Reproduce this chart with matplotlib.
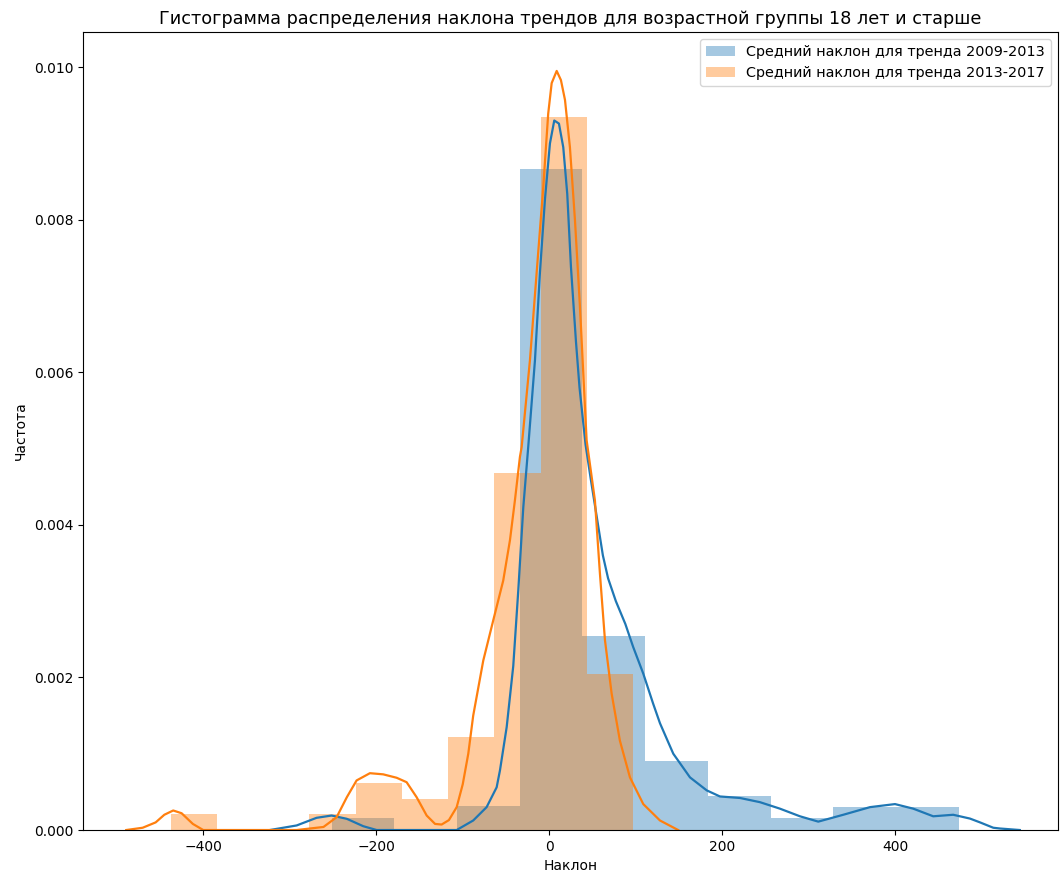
import numpy as np
import matplotlib
matplotlib.use("Agg")
import matplotlib.pyplot as plt

# Histogram bins (density) for the two periods
edges_0913 = [-251.6, -179.1, -106.6, -34.1, 38.4, 110.9, 183.4, 255.9, 328.4, 400.9, 473.4]
dens_0913 = [0.000153, 0.0, 0.000315, 0.00867, 0.00254, 0.000904, 0.000446, 0.000153, 0.000306, 0.000306]

edges_1317 = [-437.7, -384.2, -330.7, -277.3, -223.8, -170.3, -116.8, -63.4, -9.9, 43.6, 97.1]
dens_1317 = [0.000214, 0.0, 0.0, 0.000214, 0.000616, 0.000402, 0.001215, 0.004675, 0.00934, 0.00204]

# KDE curves
kde_x_0913 = [-323, -292, -269, -251.6, -234, -215, -199.5, -150, -107, -87.9, -72.4, -60.8,
              -57, -49.2, -41.6, -35.8, -30, -24.3, -16.5, -10.8, -5, 0.8, 5.8, 11.2, 16.2,
              20.8, 25.1, 30.9, 35, 42, 48, 55, 62, 68, 77, 88, 97, 108.7, 120, 128, 137.6,
              143.4, 162.7, 182, 197.3, 220.5, 243.6, 266.7, 289.8, 311, 339.9, 370.8, 399.7,
              420.8, 443.9, 467, 486.4, 498, 513.3, 521, 544]
kde_y_0913 = [0.0, 0.00006, 0.00016, 0.00019, 0.000147, 0.00005, 0.0, 0.0, 0.0, 0.000125,
              0.0003, 0.00056, 0.00078, 0.00135, 0.00215, 0.00314, 0.00423, 0.00502, 0.00616,
              0.0073, 0.00826, 0.009, 0.0093, 0.00926, 0.00895, 0.00834, 0.00738, 0.0064,
              0.0058, 0.00505, 0.0046, 0.0041, 0.0036, 0.0033, 0.0030, 0.0027, 0.0024,
              0.00205, 0.00166, 0.0014, 0.00115, 0.001, 0.00069, 0.00052, 0.00044, 0.00042,
              0.000365, 0.00028, 0.00018, 0.00011, 0.0002, 0.0003, 0.00034, 0.00028, 0.00018,
              0.0002, 0.00015, 0.0001, 0.00003, 0.00002, 0.0]

kde_x_1317 = [-489, -470, -455, -445, -434.7, -425, -412, -400, -292, -261, -245.8, -234,
              -222.7, -207.3, -192, -176.4, -164.9, -153.3, -141.7, -132, -124.4, -116, -107,
              -100, -93.6, -87.9, -76.3, -64.7, -53.2, -45.4, -39.7, -33.9, -31.9, -22.3,
              -14.6, -6.9, -1.2, 2.8, 8.6, 13.5, 18.2, 23.9, 29.7, 35.5, 43.2, 52.8, 58.6,
              64.4, 72.1, 81.7, 93.3, 108.7, 128, 149]
kde_y_1317 = [0.0, 0.00003, 0.0001, 0.0002, 0.000256, 0.00022, 0.00008, 0.0, 0.0, 0.00004,
              0.000168, 0.00043, 0.00065, 0.000745, 0.00073, 0.000685, 0.000627, 0.00043,
              0.00019, 0.00008, 0.000072, 0.00013, 0.0003, 0.0006, 0.001, 0.0015, 0.00222,
              0.00275, 0.00327, 0.0038, 0.00432, 0.00489, 0.00502, 0.00616, 0.0073, 0.00843,
              0.00939, 0.00979, 0.00995, 0.00983, 0.00957, 0.00895, 0.008, 0.00686, 0.00511,
              0.00432, 0.00336, 0.00249, 0.00179, 0.00117, 0.00069, 0.00034, 0.000125, 0.0]

labels = ["Средний наклон для тренда 2009-2013", "Средний наклон для тренда 2013-2017"]

fig = plt.figure(figsize=(10.6, 8.75), dpi=100)
ax = fig.add_axes([0.0783, 0.0514, 0.9197, 0.912])

blue = "#1f77b4"
orange = "#ff7f0e"

# first period: histogram + kde
ax.bar(edges_0913[:-1], dens_0913, width=np.diff(edges_0913), align="edge",
       color=blue, alpha=0.4, linewidth=0, label=labels[0])
ax.plot(kde_x_0913, kde_y_0913, color=blue, lw=1.6)

# second period: histogram + kde
ax.bar(edges_1317[:-1], dens_1317, width=np.diff(edges_1317), align="edge",
       color=orange, alpha=0.4, linewidth=0, label=labels[1])
ax.plot(kde_x_1317, kde_y_1317, color=orange, lw=1.6)

ax.set_xlim(-539, 588)
ax.set_ylim(0, 0.01046)
ax.set_xticks([-400, -200, 0, 200, 400])

ax.set_title("Гистограмма распределения наклона трендов для возрастной группы 18 лет и старше",
             fontsize=12.7)
ax.set_xlabel("Наклон")
ax.set_ylabel("Частота")
ax.legend(loc="upper right", fontsize=10.4)

plt.savefig("out.png", dpi=100)
